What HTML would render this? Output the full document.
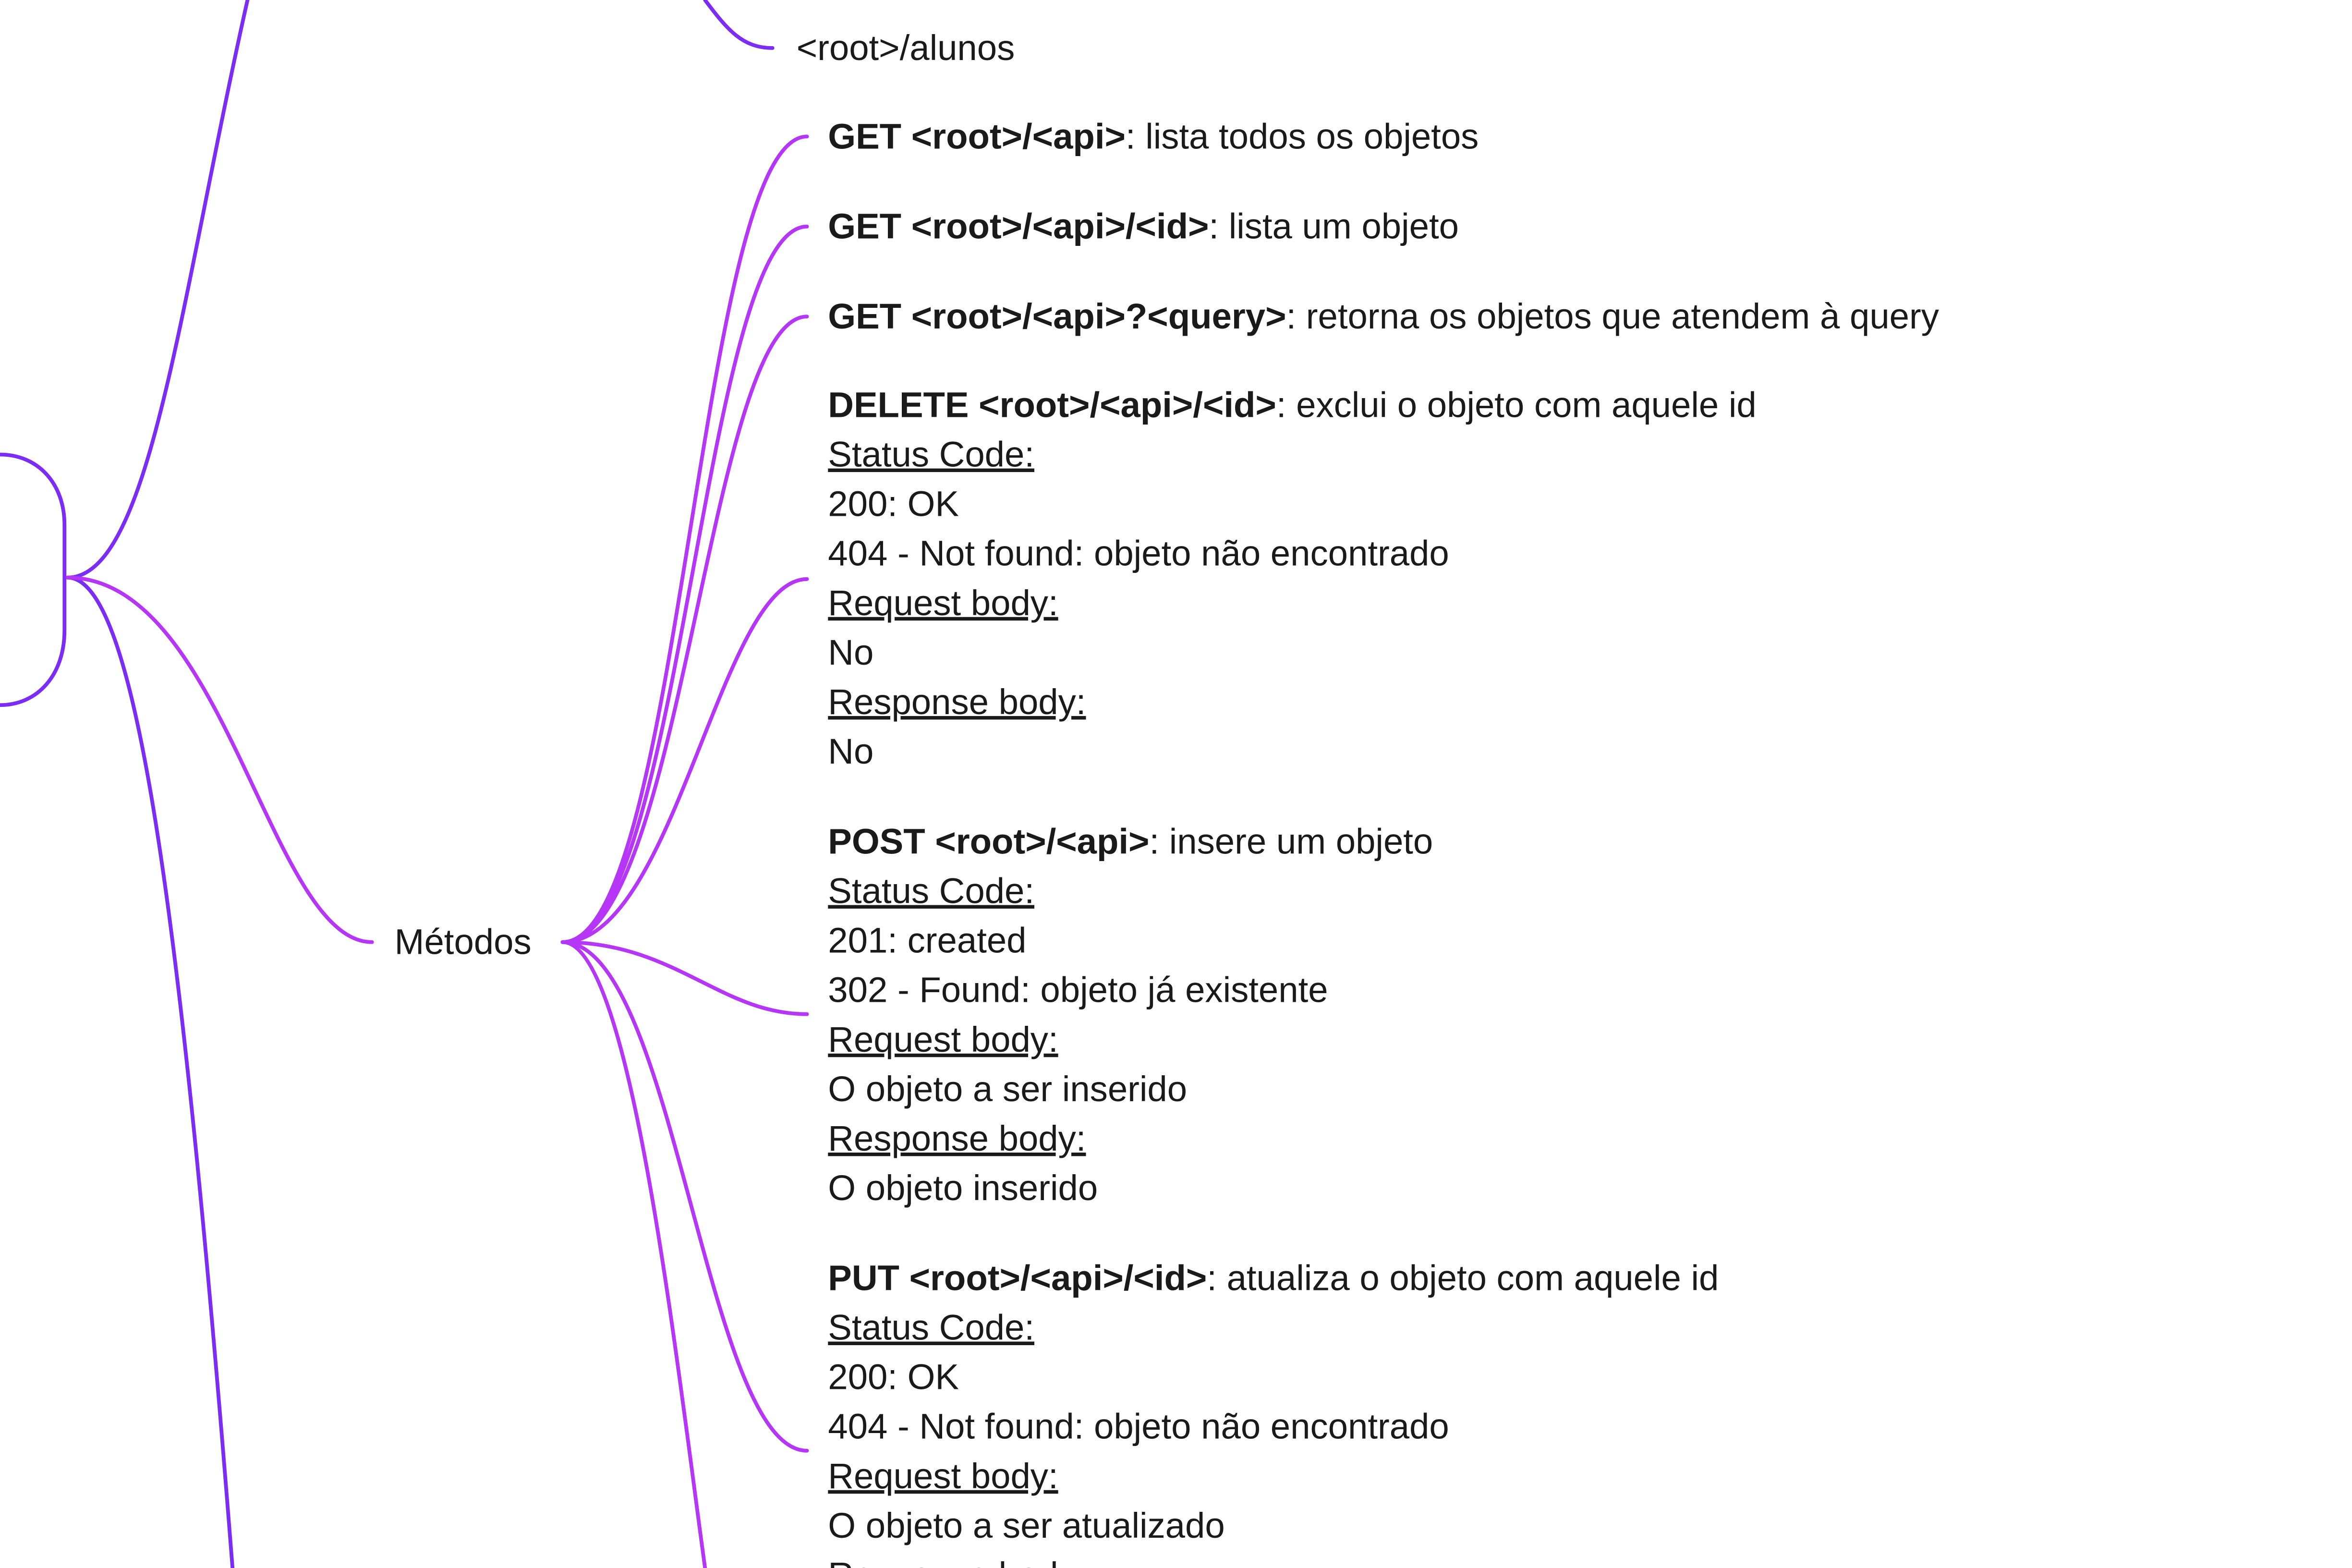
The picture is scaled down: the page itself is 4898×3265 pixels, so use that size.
<!DOCTYPE html>
<html><head><meta charset="utf-8"><style>html,body{margin:0;padding:0;background:#fff;width:4898px;height:3265px;overflow:hidden}svg{display:block}</style></head>
<body>
<svg width="4898" height="3265" viewBox="0 0 1568 1045.2" preserveAspectRatio="none" xmlns="http://www.w3.org/2000/svg">
<g fill="none" stroke-width="2.5" stroke-linecap="round">
<path d="M0,303 C25,303 43,322 43,350 L43,420 C43,450 25,470 0,470" stroke="#7b2cf5"/>
<path d="M45,385 C100,385 120,200 165,0" stroke="#7b2cf5"/>
<path d="M45,385 C90,385 120,600 155,1045" stroke="#7b2cf5"/>
<path d="M470,0 C485,20 495,32 515,32" stroke="#7b2cf5"/>
<path d="M45,385 C150,385 180,628 248,628" stroke="#b536f6"/>
<g stroke="#b536f6">
<path d="M375,628 C455,628 465,91 538,91"/>
<path d="M375,628 C455,628 468,151 538,151"/>
<path d="M375,628 C455,628 472,211 538,211"/>
<path d="M375,628 C450,628 480,386 538,386"/>
<path d="M375,628 C450,628 480,676 538,676"/>
<path d="M375,628 C450,628 470,967 538,967"/>
<path d="M375,628 C420,628 450,900 470,1045"/>
</g>
</g>
<g font-family="'Liberation Sans',sans-serif" font-size="23.8" fill="#1a1a1a">
<text x="531" y="40">&lt;root&gt;/alunos</text>
<text x="263" y="636">Métodos</text>
<g transform="translate(552,0)">
<text y="99"><tspan font-weight="bold">GET &lt;root&gt;/&lt;api&gt;</tspan>: lista todos os objetos</text>
<text y="159"><tspan font-weight="bold">GET &lt;root&gt;/&lt;api&gt;/&lt;id&gt;</tspan>: lista um objeto</text>
<text y="219"><tspan font-weight="bold">GET &lt;root&gt;/&lt;api&gt;?&lt;query&gt;</tspan>: retorna os objetos que atendem à query</text>
<text y="278"><tspan font-weight="bold">DELETE &lt;root&gt;/&lt;api&gt;/&lt;id&gt;</tspan>: exclui o objeto com aquele id</text>
<text y="311" text-decoration="underline">Status Code:</text>
<text y="344">200: OK</text>
<text y="377">404 - Not found: objeto não encontrado</text>
<text y="410" text-decoration="underline">Request body:</text>
<text y="443">No</text>
<text y="476" text-decoration="underline">Response body:</text>
<text y="509">No</text>
<text y="569"><tspan font-weight="bold">POST &lt;root&gt;/&lt;api&gt;</tspan>: insere um objeto</text>
<text y="602" text-decoration="underline">Status Code:</text>
<text y="635">201: created</text>
<text y="668">302 - Found: objeto já existente</text>
<text y="701" text-decoration="underline">Request body:</text>
<text y="734">O objeto a ser inserido</text>
<text y="767" text-decoration="underline">Response body:</text>
<text y="800">O objeto inserido</text>
<text y="860"><tspan font-weight="bold">PUT &lt;root&gt;/&lt;api&gt;/&lt;id&gt;</tspan>: atualiza o objeto com aquele id</text>
<text y="893" text-decoration="underline">Status Code:</text>
<text y="926">200: OK</text>
<text y="959">404 - Not found: objeto não encontrado</text>
<text y="992" text-decoration="underline">Request body:</text>
<text y="1025">O objeto a ser atualizado</text>
<text y="1058" text-decoration="underline">Response body:</text>
</g>
</g>
</svg>
</body></html>
